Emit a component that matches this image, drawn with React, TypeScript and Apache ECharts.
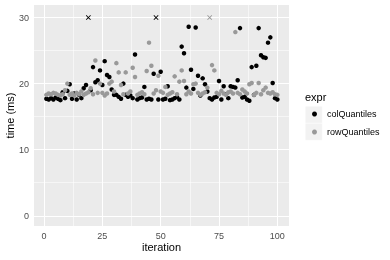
import React, { useEffect, useRef } from "react";
import * as echarts from "echarts";

// iteration index (1..100) for each measurement
const iterations: number[] = [
  1, 2, 3, 4, 5, 6, 7, 8, 9, 10, 11, 12, 13, 14, 15, 16, 17, 18, 19, 20,
  21, 22, 23, 24, 25, 26, 27, 28, 29, 30, 31, 32, 33, 34, 35, 36, 37, 38, 39, 40,
  41, 42, 43, 44, 45, 46, 47, 48, 49, 50, 51, 52, 53, 54, 55, 56, 57, 58, 59, 60,
  61, 62, 63, 64, 65, 66, 67, 68, 69, 70, 71, 72, 73, 74, 75, 76, 77, 78, 79, 80,
  81, 82, 83, 84, 85, 86, 87, 88, 89, 90, 91, 92, 93, 94, 95, 96, 97, 98, 99, 100,
];

// time (ms)
const colQuantiles: number[] = [
  17.7, 17.6, 17.8, 17.6, 17.9, 17.7, 17.5, 18.7, 17.8, 18.9,
  19.9, 17.7, 18.5, 17.6, 18.3, 17.8, 19.3, 19.8, 38.6, 19.0,
  22.5, 20.2, 20.5, 22.0, 19.8, 23.4, 21.3, 21.0, 19.1, 18.3,
  18.3, 18.0, 17.7, 20.0, 18.3, 18.0, 18.2, 17.8, 24.4, 17.6,
  17.8, 17.9, 19.5, 17.6, 17.7, 17.6, 21.5, 33.9, 17.6, 21.8,
  17.6, 17.7, 19.6, 17.5, 17.6, 17.8, 18.0, 17.6, 25.6, 24.6,
  19.4, 28.6, 22.1, 19.2, 28.5, 21.2, 18.2, 20.8, 19.9, 18.8,
  17.8, 17.6, 17.9, 18.0, 20.4, 17.6, 19.6, 18.4, 17.8, 19.6,
  19.5, 19.4, 20.5, 28.4, 17.9, 18.0, 17.6, 17.4, 22.5, 18.3,
  22.7, 28.4, 24.3, 24.0, 23.9, 26.2, 27.0, 20.1, 17.8, 17.6,
];

const rowQuantiles: number[] = [
  18.3, 18.5, 18.4, 18.6, 18.5, 18.3, 18.2, 18.4, 19.0, 20.0,
  18.3, 18.5, 18.2, 18.6, 18.4, 18.8, 18.3, 18.5, 18.7, 19.3,
  18.4, 23.5, 18.6, 20.0, 18.6, 18.2, 18.5, 20.0, 20.3, 18.8,
  23.1, 21.7, 19.8, 18.4, 21.7, 18.5, 18.8, 22.4, 21.0, 18.3,
  18.5, 18.7, 18.4, 21.9, 26.2, 22.7, 18.5, 19.0, 21.2, 18.8,
  18.6, 19.5, 18.3, 18.5, 18.7, 21.1, 18.4, 20.3, 22.0, 20.4,
  18.4, 18.8, 18.5, 19.9, 20.0, 18.6, 18.3, 18.5, 18.7, 19.4,
  31.6, 22.8, 22.0, 18.6, 18.4, 18.9, 18.5, 18.3, 18.7, 18.8,
  18.5, 27.8, 18.6, 18.4, 19.1, 18.8, 18.5, 19.9, 20.1, 18.3,
  18.6, 20.1, 18.4, 19.0, 19.4, 18.6, 18.5, 18.7, 18.4, 18.3,
];

const seriesNames: string[] = ["colQuantiles", "rowQuantiles"];
const seriesColors: string[] = ["#000000", "#999999"];

const yCap = 30; // values above are drawn as "x" at the cap
const yTicks: number[] = [0, 10, 20, 30];
const yMinor: number[] = [5, 15, 25];
const xTicks: number[] = [0, 25, 50, 75, 100];
const xMinor: number[] = [12.5, 37.5, 62.5, 87.5];

const X_PATH =
  "path://M0,1.2L1.2,0L5,3.8L8.8,0L10,1.2L6.2,5L10,8.8L8.8,10L5,6.2L1.2,10L0,8.8L3.8,5Z";

const FONT = "Liberation Sans, Arial, Helvetica, sans-serif";

export default function App() {
  const ref = useRef<HTMLDivElement>(null);

  useEffect(() => {
    if (!ref.current) return;
    const chart = echarts.init(ref.current, undefined, { renderer: "svg" });

    const values = [colQuantiles, rowQuantiles];
    const inRange = values.map((vals) =>
      iterations.map((it, i) => (vals[i] <= yCap ? [it, vals[i]] : null)).filter(Boolean)
    );
    const capped = values.map((vals) =>
      iterations.map((it, i) => (vals[i] > yCap ? [it, yCap] : null)).filter(Boolean)
    );

    const majorLine = { color: "#ffffff", width: 1.1, type: "solid" as const };
    const minorLine = { color: "#ffffff", width: 0.55, type: "solid" as const };

    const gridLines = [
      ...yMinor.map((v) => ({ yAxis: v, lineStyle: minorLine })),
      ...xMinor.map((v) => ({ xAxis: v, lineStyle: minorLine })),
      ...yTicks.map((v) => ({ yAxis: v, lineStyle: majorLine })),
      ...xTicks.map((v) => ({ xAxis: v, lineStyle: majorLine })),
    ];

    chart.setOption({
      animation: false,
      textStyle: { fontFamily: FONT },
      grid: {
        left: 34,
        top: 5,
        right: 101,
        bottom: 34,
        containLabel: false,
        outerBoundsMode: "none",
        show: true,
        backgroundColor: "#EBEBEB",
        borderWidth: 0,
      },
      xAxis: {
        type: "value",
        min: -4.3,
        max: 105,
        name: "iteration",
        nameLocation: "middle",
        nameGap: 15,
        nameMoveOverlap: false,
        nameTextStyle: { color: "#000000", fontSize: 11, fontFamily: FONT },
        axisLine: { show: false },
        axisTick: {
          show: true,
          length: 3,
          lineStyle: { color: "#333333", width: 1 },
          customValues: xTicks,
        },
        axisLabel: {
          color: "#4D4D4D",
          fontSize: 9,
          margin: 5,
          fontFamily: FONT,
          customValues: xTicks,
        },
        splitLine: { show: false },
      },
      yAxis: {
        type: "value",
        min: -1.55,
        max: 31.9,
        name: "time (ms)",
        nameLocation: "middle",
        nameGap: 19,
        nameMoveOverlap: false,
        nameRotate: 90,
        nameTextStyle: { color: "#000000", fontSize: 11, fontFamily: FONT },
        axisLine: { show: false },
        axisTick: {
          show: true,
          length: 3,
          lineStyle: { color: "#333333", width: 1 },
          customValues: yTicks,
        },
        axisLabel: {
          color: "#4D4D4D",
          fontSize: 9,
          margin: 5,
          fontFamily: FONT,
          customValues: yTicks,
        },
        splitLine: { show: false },
      },
      legend: {
        data: seriesNames.map((n) => ({ name: n, icon: "circle" })),
        orient: "vertical",
        left: 312,
        top: 105,
        padding: 0,
        itemWidth: 5,
        itemHeight: 5,
        itemGap: 0,
        selectedMode: false,
        textStyle: {
          color: "#000000",
          fontSize: 9,
          fontFamily: FONT,
          lineHeight: 18,
          padding: [0, 0, 0, 5],
        },
      },
      graphic: [
        {
          type: "rect",
          left: 305,
          top: 106,
          shape: { width: 17, height: 17 },
          style: { fill: "#F2F2F2", stroke: "#ffffff", lineWidth: 0.5 },
          z: -1,
        },
        {
          type: "rect",
          left: 305,
          top: 123,
          shape: { width: 17, height: 17 },
          style: { fill: "#F2F2F2", stroke: "#ffffff", lineWidth: 0.5 },
          z: -1,
        },
        {
          type: "text",
          left: 305,
          top: 91,
          style: { text: "expr", fill: "#000000", fontSize: 11, fontFamily: FONT },
        },
      ],
      series: [
        {
          name: "_grid",
          type: "scatter",
          data: [],
          silent: true,
          markLine: {
            silent: true,
            symbol: "none",
            z: 1,
            label: { show: false },
            emphasis: { disabled: true },
            data: gridLines,
          },
        },
        ...seriesNames.map((name, k) => ({
          name,
          type: "scatter",
          data: inRange[k],
          symbol: "circle",
          symbolSize: 4.5,
          itemStyle: { color: seriesColors[k], opacity: 1 },
          z: 3,
          silent: true,
        })),
        ...seriesNames.map((name, k) => ({
          name: name + " (capped)",
          type: "scatter",
          data: capped[k],
          symbol: X_PATH,
          symbolSize: 5,
          itemStyle: { color: seriesColors[k], opacity: 1 },
          z: 3,
          silent: true,
        })),
      ],
    });

    return () => chart.dispose();
  }, []);

  return (
    <div
      ref={ref}
      style={{ position: "fixed", left: 0, top: 0, width: 390, height: 260 }}
    />
  );
}
